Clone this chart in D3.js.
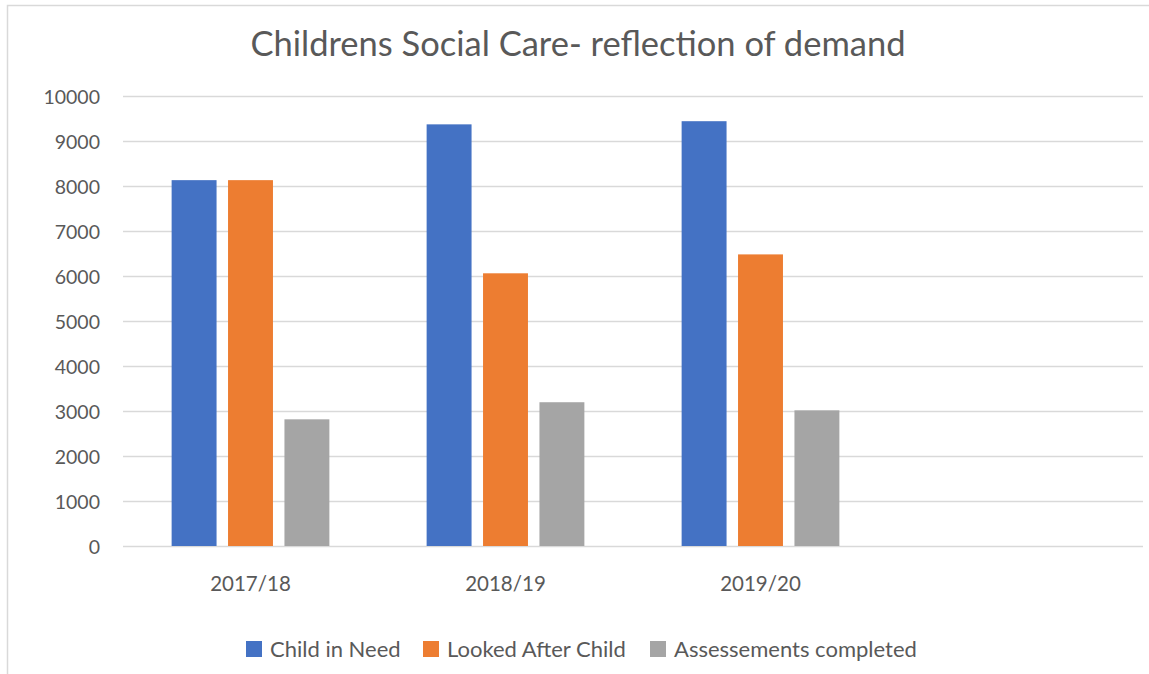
<!DOCTYPE html>
<html>
<head>
<meta charset="utf-8">
<script src="https://cdn.jsdelivr.net/npm/d3@7"></script>
<style>
  body { margin: 0; background: #fff; }
  svg { display: block; font-family: Lato, "Open Sans", sans-serif; }
</style>
</head>
<body>
<svg id="chart" width="1149" height="674"></svg>
<script>
// *************** DATA ***************
const categories = ["2017/18", "2018/19", "2019/20", ""];
const seriesNames = ["Child in Need", "Looked After Child", "Assessements completed"];
const childInNeed = [8130, 9370, 9440, null];
const lookedAfter = [8130, 6060, 6480, null];
const assessments = [2815, 3195, 3015, null];
const yTicks = [0, 1000, 2000, 3000, 4000, 5000, 6000, 7000, 8000, 9000, 10000];

const seriesValues = [childInNeed, lookedAfter, assessments];
const colors = ["#4472c4", "#ed7d31", "#a5a5a5"];

// *************** CONSTANTS ***************
const width = 1149,
      height = 674;

const margin = { left: 123, right: 6, top: 96, bottom: 128 };

const svg = d3.select("#chart");

// outer chart border
svg.append("rect")
   .attr("x", 7.5)
   .attr("y", 5.5)
   .attr("width", 1160)
   .attr("height", 700)
   .attr("fill", "none")
   .attr("stroke", "#d9d9d9")
   .attr("stroke-width", 1.5);

const x = d3.scaleBand()
            .domain(categories.map((c, i) => i))
            .range([margin.left, width - margin.right]);

const xInner = d3.scaleBand()
                 .domain(seriesNames)
                 .range([0, x.bandwidth()])
                 .paddingInner(0.2035)
                 .paddingOuter(0.862);

const y = d3.scaleLinear()
            .domain([0, 10000])
            .range([height - margin.bottom, margin.top]);

// *************** GRIDLINES / AXES ***************
svg.append("g")
   .attr("transform", `translate(${margin.left},0)`)
   .call(d3.axisLeft(y)
           .tickValues(yTicks)
           .tickSize(-(width - margin.left - margin.right))
           .tickFormat(d3.format("d")))
   .call(g => g.select(".domain").remove())
   .call(g => g.selectAll(".tick line")
               .attr("stroke", "#d9d9d9")
               .attr("stroke-width", 1.5))
   .call(g => g.selectAll(".tick text")
               .attr("x", -23)
               .attr("dy", "0.36em")
               .attr("fill", "#595959")
               .attr("font-size", "19.5px")
               .attr("font-family", "Lato, sans-serif"));

svg.append("g")
   .attr("transform", `translate(0,${height - margin.bottom})`)
   .call(d3.axisBottom(x)
           .tickSize(0)
           .tickFormat(i => categories[i]))
   .call(g => g.select(".domain").remove())
   .call(g => g.selectAll(".tick text")
               .attr("y", 45)
               .attr("dy", 0)
               .attr("fill", "#595959")
               .attr("font-size", "20.5px")
               .attr("font-family", "Lato, sans-serif"));

// *************** BARS ***************
const groups = svg.append("g")
                  .selectAll("g")
                  .data(categories.map((c, i) => i))
                  .join("g")
                  .attr("transform", i => `translate(${x(i)},0)`);

groups.selectAll("rect")
      .data(i => seriesNames.map((s, k) => ({ s, k, v: seriesValues[k][i] }))
                           .filter(d => d.v != null))
      .join("rect")
      .attr("x", d => xInner(d.s))
      .attr("width", xInner.bandwidth())
      .attr("y", d => y(d.v))
      .attr("height", d => y(0) - y(d.v))
      .attr("fill", d => colors[d.k]);

// *************** TITLE ***************
svg.append("text")
   .attr("x", 578)
   .attr("y", 56)
   .attr("text-anchor", "middle")
   .attr("fill", "#595959")
   .attr("font-size", "34.5px")
   .text("Childrens Social Care- reflection of demand");

// *************** LEGEND ***************
const legendX = [246, 423, 650];
const legend = svg.append("g")
                  .selectAll("g")
                  .data(seriesNames)
                  .join("g")
                  .attr("transform", (d, i) => `translate(${legendX[i]},641)`);

legend.append("rect")
      .attr("width", 16)
      .attr("height", 16)
      .attr("fill", (d, i) => colors[i]);

legend.append("text")
      .attr("x", 24)
      .attr("y", 16)
      .attr("fill", "#595959")
      .attr("font-size", "22px")
      .text(d => d);
</script>
</body>
</html>
